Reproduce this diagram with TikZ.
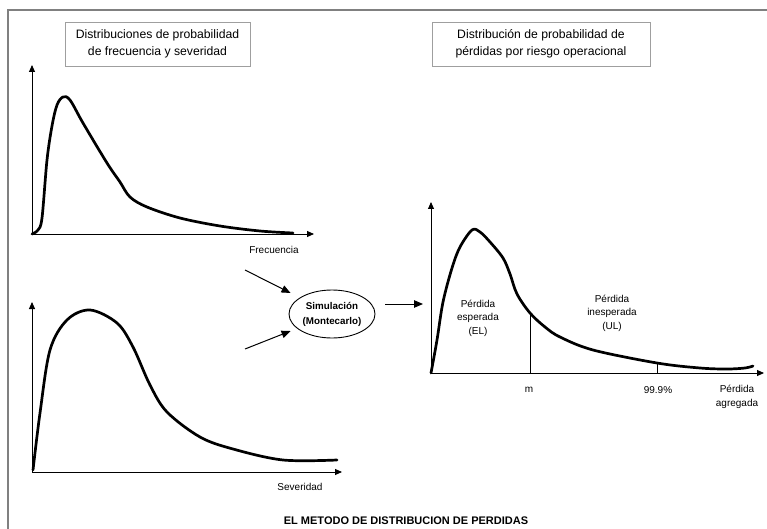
\documentclass[tikz,border=0pt]{standalone}
\usepackage{fontspec}
\setmainfont{Liberation Sans}
\usetikzlibrary{arrows.meta,shapes.geometric}
\begin{document}
\begin{tikzpicture}[x=1pt,y=-1pt,
  axis/.style={line width=0.9pt,-{Triangle[length=7pt,width=6pt]}},
  flow/.style={line width=1pt,-{Triangle[length=9pt,width=7.5pt]}},
  curve/.style={line width=2.7pt,line cap=round,line join=round},
  headbox/.style={draw=gray!75,line width=0.9pt,align=center,inner sep=0pt,
    font=\fontsize{12.2}{17.5}\selectfont},
  lbl/.style={inner sep=0pt,align=center,font=\fontsize{10}{13.5}\selectfont},
  marker/.style={line width=0.8pt}]
\useasboundingbox (0,0) rectangle (767,529);

% page frame (top and left edges)
\draw[gray, line width=2pt] (8,529) -- (8,10) -- (767,10);

% headings
\node[headbox, minimum width=185pt, minimum height=44pt] (hleft) at (157.5,44)
  {Distribuciones de probabilidad\\de frecuencia y severidad};
\node[headbox, minimum width=218pt, minimum height=44pt] (hright) at (541,44)
  {Distribución de probabilidad de\\pérdidas por riesgo operacional};

% frequency distribution
\coordinate (fo) at (32,234);
\coordinate (fy) at (32,65);
\coordinate (fx) at (314,234);
\draw[axis] (fo) -- (fy);
\draw[axis] (fo) -- (fx);
\draw[curve] plot[smooth, tension=0.55] coordinates {
  (32,234) (38,230) (42,218) (47,160) (52,126) (57,105) (63,97) (70,100)
  (83,123) (107,163) (120,182) (130,197) (147,207) (180,218) (220,226)
  (260,231) (293,233)};
\node[lbl] (freq) at (274,250) {Frecuencia};

% severity distribution
\coordinate (so) at (32,472);
\coordinate (sy) at (32,302);
\coordinate (sx) at (342,472);
\draw[axis] (so) -- (sy);
\draw[axis] (so) -- (sx);
\draw[curve] plot[smooth, tension=0.55] coordinates {
  (33,470) (40,413) (50,350) (67,320) (90,310) (117,323) (133,347)
  (150,385) (167,412) (200,437) (233,449) (283,460) (337,460)};
\node[lbl] (sev) at (300,487) {Severidad};

% simulation step
\node[draw, ellipse, line width=0.9pt, minimum width=86pt, minimum height=48pt,
  inner sep=0pt, align=center, font=\bfseries\fontsize{9.8}{15}\selectfont]
  (sim) at (332,314) {Simulación\\(Montecarlo)};
\coordinate (in1) at (245,270);
\coordinate (in2) at (245,349);
\coordinate (out) at (423,304);
\draw[flow] (in1) -- (sim.170 |- 0,293) ;
\draw[flow] (in2) -- (sim.190 |- 0,331);
\draw[flow] (sim.east |- 0,304) ++(10,0) -- (out);

% aggregate loss distribution
\coordinate (lo) at (431,373);
\coordinate (ly) at (431,202);
\coordinate (lx) at (764,373);
\draw[axis] (lo) -- (ly);
\draw[axis] (lo) -- (lx);
\draw[curve] plot[smooth, tension=0.55] coordinates {
  (431,373) (437,340) (443,302) (452,268) (460,247) (472,230) (480,232)
  (490,242) (503,258) (510,274) (517,294) (530,313) (545,327) (560,337)
  (593,350) (657,363) (700,368) (727,369) (745,368) (753,366)};
\coordinate (mtop) at (530,313);
\coordinate (mbot) at (530,373);
\coordinate (qtop) at (657,363);
\coordinate (qbot) at (657,373);
\draw[marker] (mtop) -- (mbot);
\draw[marker] (qtop) -- (qbot);
\node[lbl] (el) at (478,318) {Pérdida\\esperada\\(EL)};
\node[lbl] (ul) at (612,313) {Pérdida\\inesperada\\(UL)};
\node[lbl] (mu) at (529,390) {m};
\node[lbl] (q) at (658,390) {99.9\%};
\node[lbl] (agg) at (737,397) {Pérdida\\agregada};

% caption
\node[inner sep=0pt, font=\bfseries\fontsize{11}{13}\selectfont] (cap) at (406,521)
  {EL METODO DE DISTRIBUCION DE PERDIDAS};
\end{tikzpicture}
\end{document}
